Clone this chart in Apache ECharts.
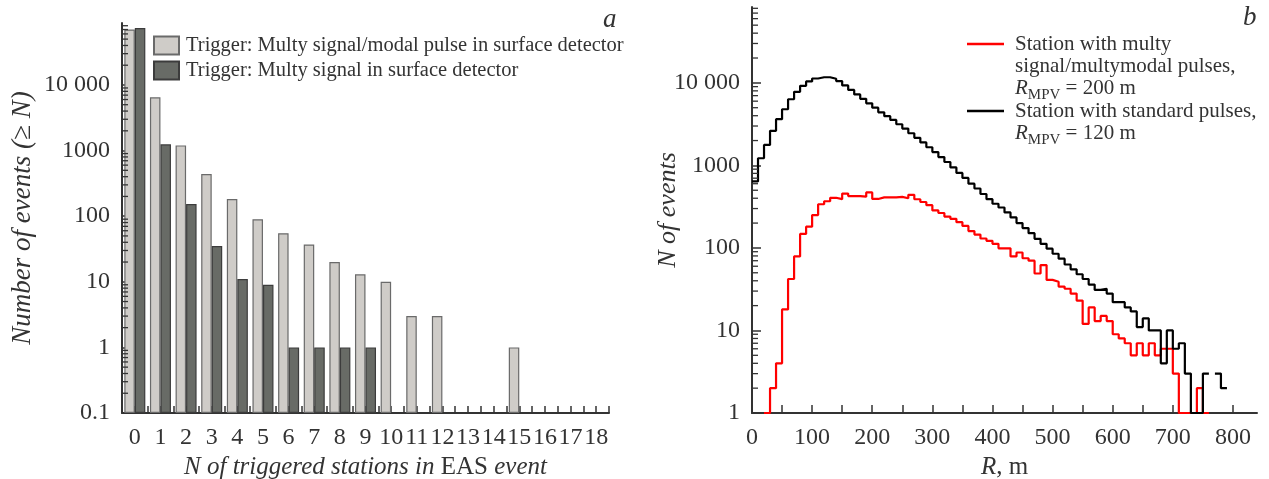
<!DOCTYPE html>
<html>
<head>
<meta charset="utf-8">
<script src="https://cdn.jsdelivr.net/npm/echarts@6/dist/echarts.min.js"></script>
<style>
  html, body { margin: 0; padding: 0; background: #fff; }
  #chart { width: 1269px; height: 479px; }
</style>
</head>
<body>
<div id="chart"></div>
<script>
// panel a: number of events with >= N triggered stations
var stations = ['0', '1', '2', '3', '4', '5', '6', '7', '8', '9', '10', '11', '12', '13', '14', '15', '16', '17', '18'];
var multiModalCounts = [70000, 6470, 1200, 440, 182, 90, 55, 37, 20, 13, 10, 3, 3, null, null, 1, null, null, null];
var multySignalCounts = [74000, 1245, 153, 35, 11, 9, 1, 1, 1, 1, null, null, null, null, null, null, null, null, null];

// panel b: histogram over R, value of the bin that ends at rEdge[i]
var rEdge = [0, 10, 20, 30, 40, 50, 60, 70, 80, 90,
  100, 110, 120, 130, 140, 150, 160, 170, 180, 190,
  200, 210, 220, 230, 240, 250, 260, 270, 280, 290,
  300, 310, 320, 330, 340, 350, 360, 370, 380, 390,
  400, 410, 420, 430, 440, 450, 460, 470, 480, 490,
  500, 510, 520, 530, 540, 550, 560, 570, 580, 590,
  600, 610, 620, 630, 640, 650, 660, 670, 680, 690,
  700, 710, 720, 730, 740, 750, 760, 770, 780, 790];
var multyStation = [null, null, null, 1, 2, 4, 18, 42, 79, 148,
  181, 250, 338, 368, 405, 390, 455, 425, 425, 418,
  470, 392, 410, 410, 410, 415, 400, 440, 389, 360,
  330, 285, 265, 240, 225, 205, 185, 160, 145, 130,
  122, 112, 99, 99, 79, 88, 75, 70, 49, 62,
  41, 39, 34, 32, 28, 23, 12, 19, 13, 15,
  13, 9, 8, 7, 5, 7, 5, 7, 5, 6,
  6, 3, 1, 1, 1, 2, 1, null, null, null];
var standardStation = [640, 640, 1220, 1770, 2620, 3630, 4790, 6330, 7780, 9200,
  10400, 11300, 11700, 11700, 11200, 10500, 9300, 8200, 7250, 6400,
  5650, 5000, 4400, 3950, 3560, 3150, 2790, 2450, 2160, 1900,
  1660, 1450, 1260, 1100, 945, 810, 705, 600, 525, 450,
  390, 343, 309, 269, 234, 200, 174, 151, 129, 112,
  98, 85, 74, 63, 55, 48, 42, 36, 31, 32,
  28, 22, 22, 19, 17, 11, 14, 10, 10, 4,
  10, 6, 7, 3, 1, 1, 3, null, 3, 2];

var SERIF = 'Liberation Serif';
var INK = '#333';
var nameA1 = 'Trigger: Multy signal/modal pulse in surface detector';
var nameA2 = 'Trigger: Multy signal in surface detector';
var nameB1 = 'Station with multy signal/multymodal pulses';
var nameB2 = 'Station with standard pulses';

function pairs(xs, ys) {
  return xs.map(function (x, i) { return [x, ys[i]]; });
}

// minor ticks 2..9 of every decade, drawn through the log scale
function minorTicks(lo, hi, max) {
  var out = [];
  for (var k = lo; k <= hi; k++) {
    for (var m = 2; m <= 9; m++) {
      var v = +(m * Math.pow(10, k)).toPrecision(3);
      if (v < max) out.push([0, v]);
    }
  }
  return out;
}
function minorTickItem(params, api) {
  var y = api.coord([api.value(0), api.value(1)])[1];
  var x0 = params.coordSys.x;
  return {
    type: 'line',
    shape: { x1: x0, y1: y, x2: x0 + 6, y2: y },
    style: { stroke: INK, lineWidth: 1.3 }
  };
}
function logLabel(v) {
  if (v >= 1) {
    var r = Math.round(v);
    return r >= 10000 ? String(r).slice(0, -3) + ' ' + String(r).slice(-3) : String(r);
  }
  return String(+v.toPrecision(2));
}

var axisText = { fontFamily: SERIF, fontSize: 24, color: INK };
var axisLine = { lineStyle: { color: INK, width: 2 } };
var legendRich = {
  i: { fontFamily: SERIF, fontSize: 21, fontStyle: 'italic', color: INK, lineHeight: 22 },
  s: { fontFamily: SERIF, fontSize: 15, color: INK, lineHeight: 22, padding: [14, 0, 0, 0] }
};

var myChart = echarts.init(document.getElementById('chart'));

var option = {
  animation: false,
  backgroundColor: '#fff',
  graphic: [
    { type: 'text', left: 603, top: 6, style: { text: 'a', font: 'italic 27px "Liberation Serif"', fill: INK } },
    { type: 'text', left: 1243, top: 4, style: { text: 'b', font: 'italic 27px "Liberation Serif"', fill: INK } }
  ],
  legend: [
    {
      data: [nameA1, nameA2],
      orient: 'vertical',
      left: 153, top: 35, padding: 0,
      itemWidth: 25, itemHeight: 18, itemGap: 4,
      icon: 'rect',
      textStyle: { fontFamily: SERIF, fontSize: 20.5, color: INK, padding: [0, 0, 0, 2] }
    },
    {
      data: [nameB1],
      left: 967, top: -11, padding: 0,
      itemWidth: 37, itemHeight: 2.5, icon: 'rect',
      formatter: function () {
        return '\n\nStation with multy\nsignal/multymodal pulses,\n{i|R}{s|MPV} = 200 m';
      },
      textStyle: { fontFamily: SERIF, fontSize: 21, color: INK, lineHeight: 22, padding: [0, 0, 0, 6], rich: legendRich }
    },
    {
      data: [nameB2],
      left: 967, top: 78, padding: 0,
      itemWidth: 37, itemHeight: 2.5, icon: 'rect',
      formatter: function () {
        return '\nStation with standard pulses,\n{i|R}{s|MPV} = 120 m';
      },
      textStyle: { fontFamily: SERIF, fontSize: 21, color: INK, lineHeight: 22, padding: [0, 0, 0, 6], rich: legendRich }
    }
  ],
  grid: [
    { left: 122, top: 23, width: 487, height: 390, outerBoundsMode: 'none', containLabel: false },
    { left: 752, top: 7, width: 505, height: 406, outerBoundsMode: 'none', containLabel: false }
  ],
  xAxis: [
    {
      type: 'category', gridIndex: 0, data: stations,
      axisLine: axisLine,
      axisTick: { show: false },
      axisLabel: Object.assign({ interval: 0, margin: 13 }, axisText),
      name: '{i|N of triggered stations in} EAS {i|event}',
      nameLocation: 'middle', nameGap: 39,
      nameTextStyle: {
        fontFamily: SERIF, fontSize: 25, color: INK,
        rich: { i: { fontFamily: SERIF, fontSize: 25, fontStyle: 'italic', color: INK } }
      }
    },
    {
      // half-category tick marks along the bottom of panel a
      type: 'value', gridIndex: 0, position: 'bottom',
      min: 0, max: 38, interval: 1,
      axisLine: { show: false },
      axisLabel: { show: false },
      axisTick: { inside: true, length: 7, lineStyle: { color: INK, width: 1.5 } },
      splitLine: { show: false }
    },
    {
      type: 'value', gridIndex: 1,
      min: 0, max: 840, interval: 50,
      axisLine: axisLine,
      axisTick: { inside: true, length: 8, lineStyle: { color: INK, width: 1.5 } },
      axisLabel: Object.assign({
        margin: 13, showMaxLabel: false,
        formatter: function (v) { return v % 100 === 0 ? String(v) : ''; }
      }, axisText),
      splitLine: { show: false },
      name: '{i|R}, m',
      nameLocation: 'middle', nameGap: 39,
      nameTextStyle: {
        fontFamily: SERIF, fontSize: 25, color: INK,
        rich: { i: { fontFamily: SERIF, fontSize: 25, fontStyle: 'italic', color: INK } }
      }
    }
  ],
  yAxis: [
    {
      type: 'log', logBase: 10, gridIndex: 0,
      min: 0.1, max: 88000, splitNumber: 6, startValue: 0.1,
      axisLine: Object.assign({ show: true }, axisLine),
      axisTick: { inside: true, length: 9, lineStyle: { color: INK, width: 1.5 } },
      axisLabel: Object.assign({ margin: 12, showMaxLabel: false, formatter: logLabel }, axisText),
      splitLine: { show: false },
      name: 'Number of events (≥ N)',
      nameLocation: 'middle', nameGap: 86, nameMoveOverlap: false,
      nameTextStyle: { fontFamily: SERIF, fontSize: 27, fontStyle: 'italic', color: INK }
    },
    {
      type: 'log', logBase: 10, gridIndex: 1,
      min: 1, max: 83000, splitNumber: 5,
      axisLine: Object.assign({ show: true }, axisLine),
      axisTick: { inside: true, length: 9, lineStyle: { color: INK, width: 1.5 } },
      axisLabel: Object.assign({ margin: 12, showMaxLabel: false, formatter: logLabel }, axisText),
      splitLine: { show: false },
      name: 'N of events',
      nameLocation: 'middle', nameGap: 71, nameMoveOverlap: false,
      nameTextStyle: { fontFamily: SERIF, fontSize: 26, fontStyle: 'italic', color: INK }
    }
  ],
  series: [
    {
      name: nameA1, type: 'bar', xAxisIndex: 0, yAxisIndex: 0,
      data: multiModalCounts,
      barGap: '0%', barCategoryGap: '18%',
      itemStyle: { color: '#cfccc8', borderColor: '#6a6a6a', borderWidth: 1.2 }
    },
    {
      name: nameA2, type: 'bar', xAxisIndex: 0, yAxisIndex: 0,
      data: multySignalCounts,
      barGap: '0%', barCategoryGap: '18%',
      itemStyle: { color: '#686b66', borderColor: '#3c3c3c', borderWidth: 1.2 }
    },
    {
      type: 'custom', xAxisIndex: 0, yAxisIndex: 0, silent: true, clip: false, z: 5,
      data: minorTicks(-1, 4, 88000),
      encode: { x: 0, y: 1 },
      renderItem: minorTickItem
    },
    {
      name: nameB1, type: 'line', xAxisIndex: 2, yAxisIndex: 1,
      data: pairs(rEdge, multyStation),
      step: 'start', showSymbol: false, symbol: 'none', connectNulls: false,
      color: '#ff0000',
      lineStyle: { color: '#ff0000', width: 2.2 }
    },
    {
      name: nameB2, type: 'line', xAxisIndex: 2, yAxisIndex: 1,
      data: pairs(rEdge, standardStation),
      step: 'start', showSymbol: false, symbol: 'none', connectNulls: false,
      color: '#000000',
      lineStyle: { color: '#000000', width: 2.2 }
    },
    {
      type: 'custom', xAxisIndex: 2, yAxisIndex: 1, silent: true, clip: false, z: 5,
      data: minorTicks(0, 4, 83000),
      encode: { x: 0, y: 1 },
      renderItem: minorTickItem
    }
  ]
};
myChart.setOption(option);
</script>
</body>
</html>
